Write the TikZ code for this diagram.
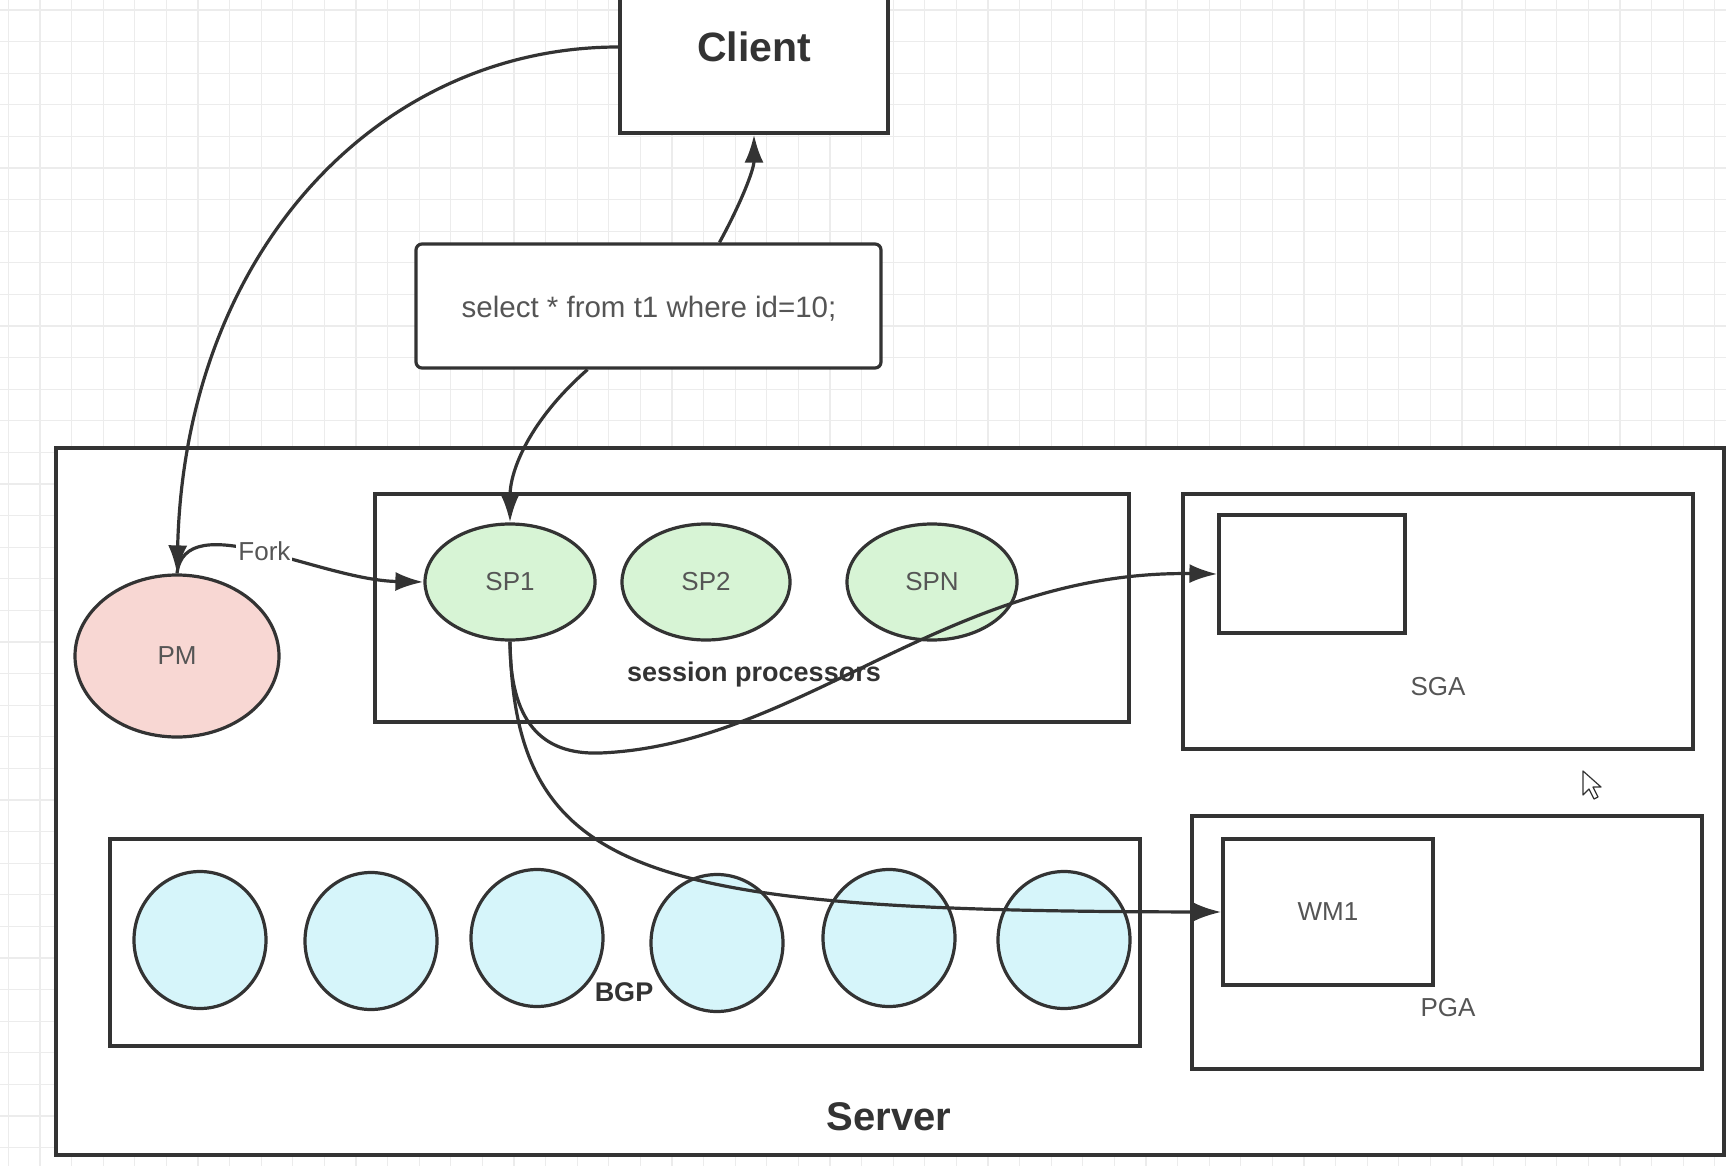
\documentclass[tikz,border=0pt]{standalone}
\usepackage{fontspec}
\setmainfont{Liberation Sans}
\usetikzlibrary{arrows.meta, shapes.geometric}
\definecolor{ln}{HTML}{333333}
\definecolor{txt}{HTML}{555555}
\definecolor{pmfill}{HTML}{F8D7D3}
\definecolor{spfill}{HTML}{D7F4D5}
\definecolor{bgfill}{HTML}{D6F5FA}
\definecolor{gridc}{HTML}{ECECEC}
\begin{document}
\begin{tikzpicture}[x=1pt,y=-1pt,
  box/.style={draw=ln, line width=3.2pt, fill=white, inner sep=0pt},
  proc/.style={ellipse, draw=ln, line width=3.2pt, inner sep=0pt, text=txt, font=\fontsize{26}{30}\selectfont},
  lbl/.style={text=txt, font=\fontsize{26}{30}\selectfont, inner sep=0pt},
  blbl/.style={text=ln, font=\bfseries\fontsize{27}{30}\selectfont, inner sep=0pt},
  conn/.style={draw=ln, line width=3.2pt, -{Latex[length=28pt,width=19pt]}},
]
\useasboundingbox (0,0) rectangle (1726,1166);
\clip (0,0) rectangle (1726,1166);
\fill[white] (0,0) rectangle (1726,1166);
% grid
\foreach \i in {0,...,55} \draw[gridc, line width=1.2pt] (8.4+31.6*\i,0) -- (8.4+31.6*\i,1166);
\foreach \j in {0,...,37} \draw[gridc, line width=1.2pt] (0,10+31.6*\j) -- (1726,10+31.6*\j);

% client and query
\node[box, minimum width=268, minimum height=138] (client) at (754,64) {};
\node[blbl, font=\bfseries\fontsize{41}{45}\selectfont] (clientlbl) at (754,47) {Client};
\node[box, rounded corners=6pt, minimum width=465, minimum height=124] (select) at (648.5,306) {};
\node[lbl, font=\fontsize{29.5}{32}\selectfont] (selectlbl) at (649,309) {select * from t1 where id=10;};

% server
\node[box, minimum width=1668, minimum height=707] (server) at (890,801.5) {};
\node[blbl, font=\bfseries\fontsize{40}{44}\selectfont] (serverlbl) at (889,1117) {Server};

% session processors
\node[box, minimum width=754, minimum height=228] (sess) at (752,608) {};
\node[blbl] (sesslbl) at (754,675) {session processors};
\node[proc, fill=spfill, minimum width=170, minimum height=116] (sp1) at (510,582) {SP1};
\node[proc, fill=spfill, minimum width=168, minimum height=116] (sp2) at (706,582) {SP2};
\node[proc, fill=spfill, minimum width=170, minimum height=116] (spn) at (932,582) {SPN};

% PM
\node[proc, fill=pmfill, minimum width=204, minimum height=162] (pm) at (177,656) {PM};

% SGA
\node[box, minimum width=510, minimum height=255] (sga) at (1438,621.5) {};
\node[box, minimum width=186, minimum height=118] (sgainner) at (1312,574) {};
\node[lbl] (sgalbl) at (1438,687) {SGA};

% PGA
\node[box, minimum width=510, minimum height=253] (pga) at (1447,942.5) {};
\node[box, minimum width=210, minimum height=146, text=txt, font=\fontsize{26}{30}\selectfont] (wm1) at (1328,912) {WM1};
\node[lbl] (pgalbl) at (1448,1008) {PGA};

% BGP
\node[box, minimum width=1030, minimum height=207] (bgpbox) at (625,942.5) {};
\foreach \n/\x/\y in {1/200/940, 2/371/941, 3/537/938, 4/717/943, 5/889/938, 6/1064/940}
  \node[proc, fill=bgfill, minimum width=132, minimum height=137] (bgp\n) at (\x,\y) {};
\node[blbl] (bgplbl) at (624,992) {BGP};

% connectors
\draw[conn] ([yshift=17pt]client.west) .. controls (380,47) and (185,250) .. (pm.north);
\draw[conn] ([xshift=71pt]select.north) .. controls (740,205) and (754,170) .. (client.south);
\draw[conn] ([xshift=-61pt]select.south) .. controls (530,420) and (510,470) .. (sp1.north);
\draw[conn] (pm.north) .. controls (185,505) and (320,580) .. (sp1.west)
  node[pos=0.5, lbl, fill=white, inner sep=2pt] (fork) {Fork};
\draw[conn] (sp1.south) .. controls (510,720) and (540,755) .. (600,753)
  .. controls (800,745) and (950,570) .. (sgainner.west);
\draw[conn] (sp1.south) .. controls (515,880) and (650,911) .. (wm1.west);

% mouse cursor
\draw[ln, line width=1.2pt, fill=white, line join=round]
  (1583,771) -- (1583,795) -- (1589,789) -- (1594,799) -- (1598,797) -- (1593,787) -- (1601,787) -- cycle;
\end{tikzpicture}
\end{document}
